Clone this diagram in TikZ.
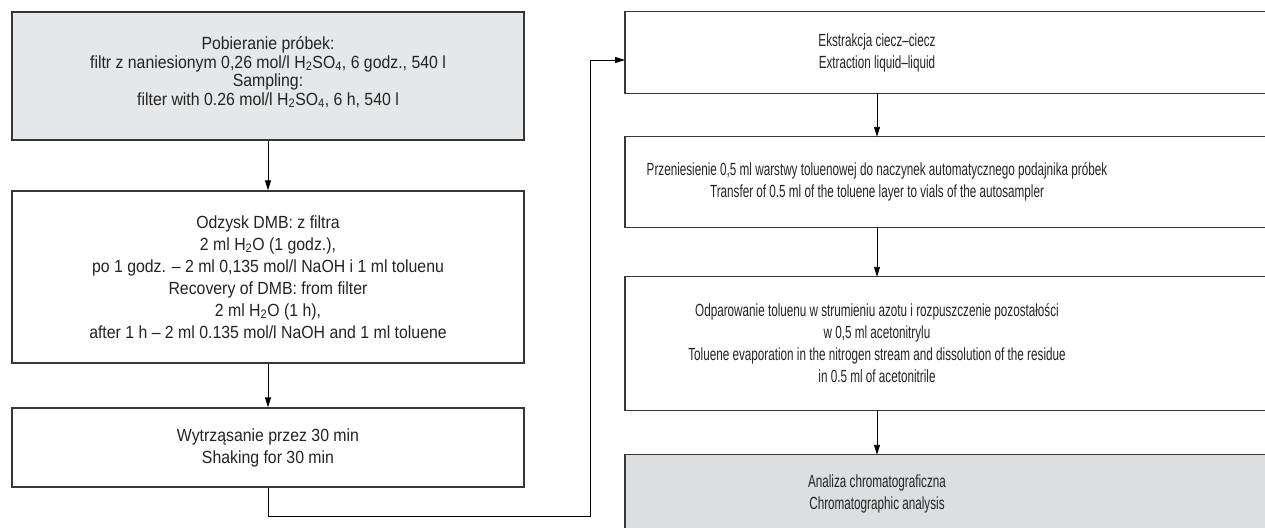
\documentclass[tikz,border=0pt]{standalone}
\usepackage{fontspec}
\setmainfont{Liberation Sans}
\newfontfamily\leftfam{Liberation Sans}[FakeStretch=0.90]
\newfontfamily\rightfam{Liberation Sans}[FakeStretch=0.665]
\usetikzlibrary{arrows.meta,backgrounds}

\definecolor{sampgray}{RGB}{230,231,232}
\definecolor{analgray}{RGB}{221,222,224}
\definecolor{edgegray}{RGB}{55,55,55}
\definecolor{inkgray}{RGB}{35,35,35}

\newcommand{\leftflowfont}{\leftfam\fontsize{17.6}{22}\selectfont}
\newcommand{\rightflowfont}{\rightfam\fontsize{17.6}{22}\selectfont}

\tikzset{
  stepbox/.style={draw=edgegray, line width=1.3pt, align=center, minimum width=512pt,
    inner sep=0pt, text=inkgray, font=\leftflowfont},
  steptext/.style={align=center, inner sep=0pt, text=inkgray, font=\rightflowfont},
  stepframe/.style={draw=edgegray, line width=1.3pt},
  flow/.style={line width=0.9pt, -{Triangle[length=10pt,width=6pt]}},
}

\begin{document}
\begin{tikzpicture}[x=1pt, y=-1pt]
		\useasboundingbox (0,0) rectangle (1265,527);
		\clip (0,0) rectangle (1265,527);

		% Left column
		\node[stepbox, fill=sampgray, minimum height=128pt,
			font=\leftfam\fontsize{17.6}{18.4}\selectfont, text depth=10pt] (samp) at (268,76)
			{Pobieranie próbek:\\filtr z naniesionym 0,26 mol/l H\textsubscript{2}SO\textsubscript{4}, 6 godz., 540 l\\Sampling:\\filter with 0.26 mol/l H\textsubscript{2}SO\textsubscript{4}, 6 h, 540 l};
		\node[stepbox, minimum height=172pt] (recov) at (268,277)
			{Odzysk DMB: z filtra\\2 ml H\textsubscript{2}O (1 godz.),\\po 1 godz. – 2 ml 0,135 mol/l NaOH i 1 ml toluenu\\Recovery of DMB: from filter\\2 ml H\textsubscript{2}O (1 h),\\after 1 h – 2 ml 0.135 mol/l NaOH and 1 ml toluene};
		\node[stepbox, minimum height=79pt] (shake) at (268,447.5)
			{Wytrząsanie przez 30 min\\Shaking for 30 min};

		% Right column
		\coordinate (colL) at (625,0);
		\coordinate (colR) at (1280,0);
		\node[steptext, minimum height=81pt] (ext) at (877,52.5)
			{Ekstrakcja ciecz–ciecz\\Extraction liquid–liquid};
		\node[steptext, minimum height=90pt] (trans) at (877,182)
			{Przeniesienie 0,5 ml warstwy toluenowej do naczynek automatycznego podajnika próbek\\Transfer of 0.5 ml of the toluene layer to vials of the autosampler};
		\node[steptext, minimum height=133pt] (evap) at (877,343.5)
			{Odparowanie toluenu w strumieniu azotu i rozpuszczenie pozostałości\\w 0,5 ml acetonitrylu\\Toluene evaporation in the nitrogen stream and dissolution of the residue\\in 0.5 ml of acetonitrile};
		\node[steptext, minimum height=78pt] (anal) at (877,494)
			{Analiza chromatograficzna\\Chromatographic analysis};

		\begin{scope}[on background layer]
			\draw[stepframe] (ext.north -| colL) rectangle (ext.south -| colR);
			\draw[stepframe] (trans.north -| colL) rectangle (trans.south -| colR);
			\draw[stepframe] (evap.north -| colL) rectangle (evap.south -| colR);
			\draw[stepframe, fill=analgray] (anal.north -| colL) rectangle (anal.south -| colR);
		\end{scope}

		% Arrows
		\coordinate (lowturn) at (590,516);
		\coordinate (extin) at (625,60);
		\draw[flow] (samp) -- (recov);
		\draw[flow] (recov) -- (shake);
		\draw[flow] (shake.south) |- (lowturn) |- (extin);
		\draw[flow] (ext) -- (trans);
		\draw[flow] (trans) -- (evap);
		\draw[flow] (evap) -- (anal);
	\end{tikzpicture}
\end{document}
